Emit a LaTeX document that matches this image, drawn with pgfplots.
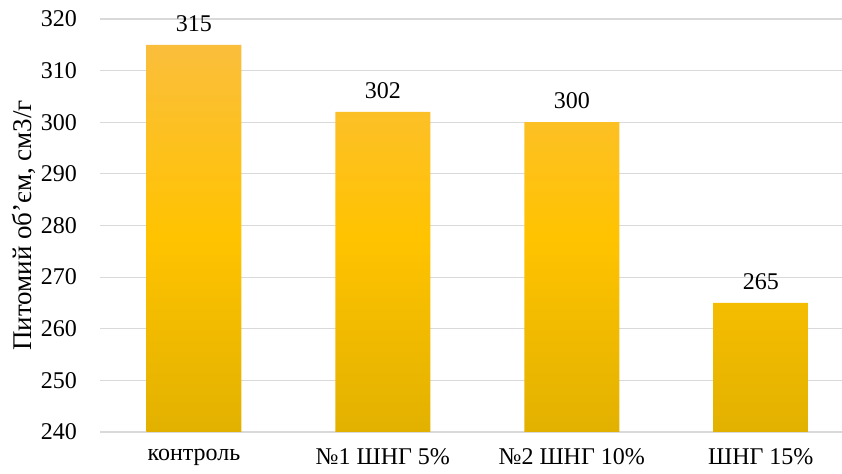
\documentclass[border=0pt]{standalone}
\usepackage{pgfplots}
\pgfplotsset{compat=1.18}
\usepackage{pgfplotstable}
\usepackage{fontspec}
\setmainfont{Liberation Serif}
\usetikzlibrary{calc}

\definecolor{bartop}{HTML}{FBBE3C}
\definecolor{barmid}{HTML}{FFC300}
\definecolor{barbot}{HTML}{E2B100}
\definecolor{gridgray}{HTML}{D9D9D9}

% specific volume per sample, cm3/g
\pgfplotstableread{
x v
0 315
1 302
2 300
3 265
}\volume

\newcommand{\chartfont}{\fontsize{12bp}{14bp}\selectfont}
\newcommand{\labelfont}{\fontsize{13.5bp}{16bp}\selectfont}

\begin{document}
\begin{tikzpicture}
\begin{axis}[
  scale only axis,
  width=371bp, height=206.5bp,
  xmin=-0.497, xmax=3.43,
  ymin=240, ymax=320,
  ytick={240,250,260,270,280,290,300,310,320},
  % bars rise from the lower limit of the axis (240)
  y coord trafo/.code={\pgfmathparse{#1-240}},
  y coord inv trafo/.code={\pgfmathparse{#1+240}},
  xtick=data,
  xticklabels={контроль, №1 ШНГ 5\%, №2 ШНГ 10\%, ШНГ 15\%},
  axis line style={draw=none},
  major tick length=0pt,
  ymajorgrids,
  grid style={gridgray, line width=0.6bp},
  /pgf/number format/assume math mode=true,
  tick label style={font=\chartfont, black},
  yticklabel style={xshift=-8bp},
  xticklabel style={yshift=-5bp},
  every axis y label/.style={at={(axis description cs:-0.1024,0.5)}, rotate=90, anchor=center, font=\labelfont},
  ylabel={Питомий об’єм, см3/г},
  point meta=explicit,
  nodes near coords,
  nodes near coords style={font=\chartfont, black, yshift=3bp},
]
\addplot[ybar, bar width=0.503, draw=none,
  top color=bartop, bottom color=barbot, middle color=barmid]
  table[x=x, y=v, meta=v] {\volume};
\end{axis}
\pgfresetboundingbox
\path[use as bounding box] ($(current axis.south west)+(-50bp,-21bp)$) rectangle ($(current axis.north east)+(0,9.5bp)$);
\end{tikzpicture}
\end{document}
